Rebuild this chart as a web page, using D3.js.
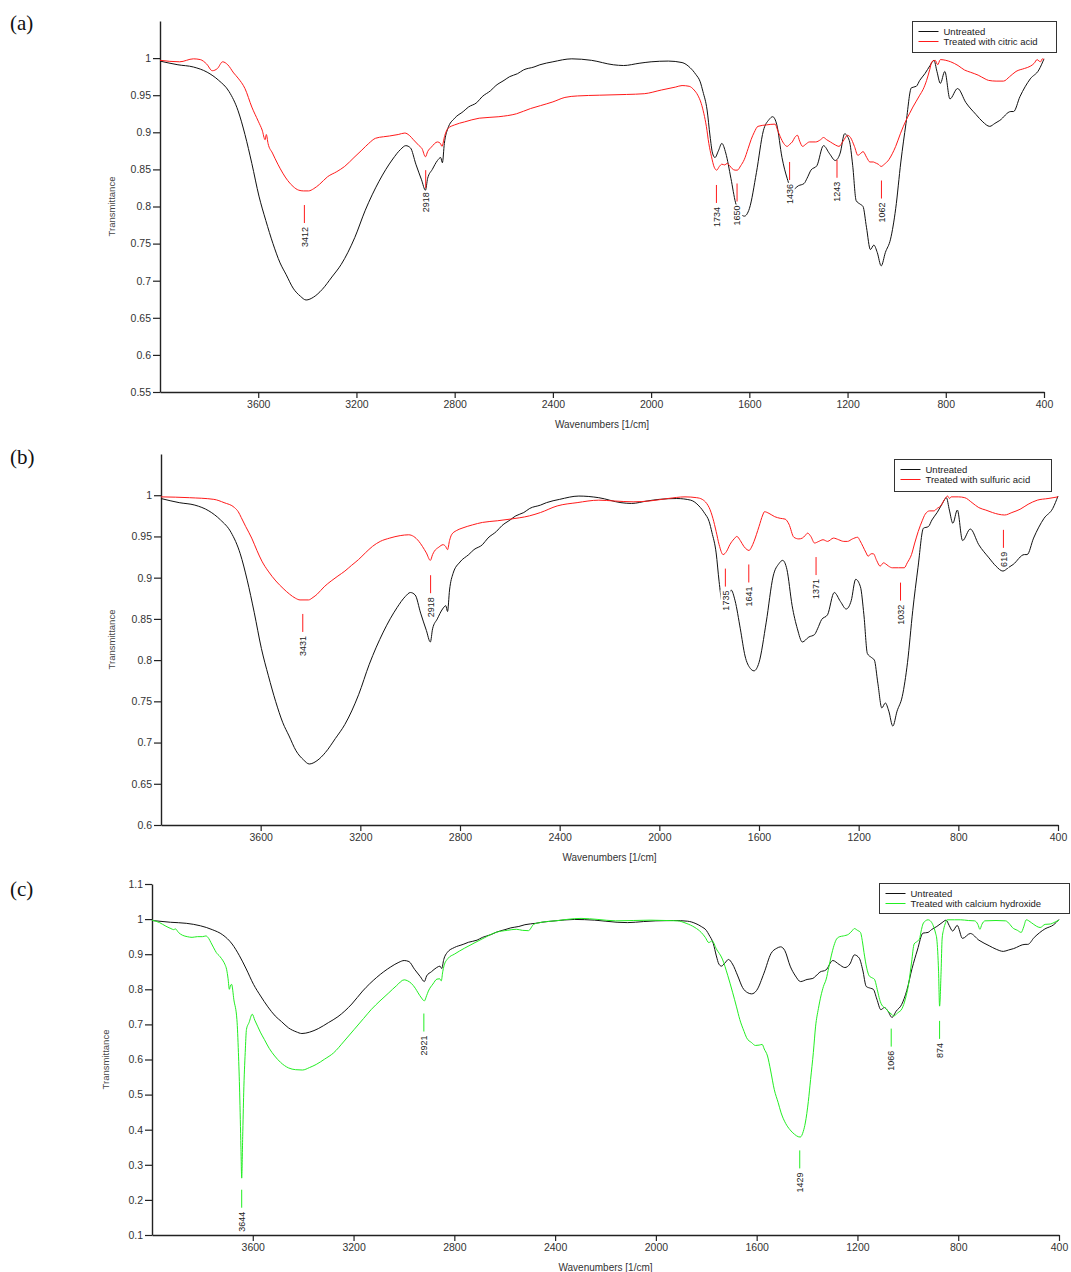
<!DOCTYPE html>
<html>
<head>
<meta charset="utf-8">
<script src="https://cdn.jsdelivr.net/npm/d3@7/dist/d3.min.js"></script>
<style>
  body { margin: 0; background: #fff; }
  svg text { font-family: "Liberation Sans", Arial, sans-serif; }
</style>
</head>
<body>
<svg id="chart" width="1071" height="1272"></svg>
<script>
// ---- data (wavenumber [1/cm], transmittance) ----
// untreated sample, same spectrum in all three panels
var untreated = [[4000,0.996],[3927,0.991],[3864,0.988],[3808,0.981],[3761,0.970],[3719,0.955],[3682,0.929],[3654,0.897],[3626,0.858],[3597,0.814],[3569,0.781],[3540,0.750],[3511,0.724],[3486,0.708],[3458,0.690],[3428,0.679],[3405,0.674],[3374,0.678],[3340,0.688],[3300,0.705],[3262,0.722],[3207,0.758],[3164,0.795],[3108,0.834],[3052,0.864],[3020,0.877],[2999,0.882],[2980,0.879],[2958,0.857],[2935,0.836],[2919,0.822],[2910,0.838],[2891,0.850],[2870,0.862],[2857,0.866],[2850,0.859],[2842,0.885],[2828,0.905],[2800,0.919],[2765,0.928],[2744,0.934],[2710,0.940],[2688,0.948],[2654,0.956],[2632,0.963],[2599,0.970],[2576,0.975],[2544,0.979],[2520,0.984],[2477,0.988],[2453,0.991],[2400,0.995],[2323,0.999],[2243,0.997],[2154,0.991],[2112,0.990],[2049,0.993],[2000,0.995],[1930,0.996],[1874,0.994],[1841,0.987],[1818,0.978],[1800,0.968],[1789,0.955],[1772,0.930],[1760,0.895],[1750,0.872],[1740,0.866],[1726,0.875],[1712,0.885],[1696,0.872],[1675,0.838],[1656,0.805],[1635,0.790],[1620,0.787],[1600,0.797],[1571,0.846],[1543,0.902],[1520,0.917],[1505,0.921],[1488,0.910],[1467,0.866],[1446,0.838],[1426,0.822],[1400,0.828],[1377,0.831],[1365,0.838],[1349,0.849],[1325,0.855],[1298,0.882],[1273,0.871],[1250,0.862],[1230,0.872],[1212,0.898],[1193,0.889],[1179,0.855],[1165,0.808],[1148,0.803],[1137,0.800],[1123,0.772],[1107,0.742],[1093,0.748],[1079,0.738],[1063,0.720],[1046,0.738],[1025,0.756],[1004,0.797],[983,0.860],[962,0.912],[940,0.960],[920,0.962],[906,0.970],[885,0.979],[864,0.990],[848,0.997],[836,0.982],[822,0.966],[804,0.982],[783,0.945],[752,0.959],[718,0.940],[677,0.924],[649,0.914],[621,0.908],[600,0.912],[580,0.916],[535,0.928],[524,0.928],[498,0.948],[456,0.972],[421,0.984],[400,0.999]];

var citric = [[4000,0.997],[3920,0.995],[3864,0.999],[3836,0.998],[3810,0.992],[3787,0.983],[3766,0.986],[3745,0.995],[3724,0.991],[3700,0.980],[3682,0.973],[3654,0.959],[3626,0.934],[3600,0.915],[3584,0.903],[3572,0.890],[3567,0.897],[3560,0.885],[3542,0.872],[3520,0.857],[3500,0.845],[3480,0.835],[3458,0.827],[3435,0.822],[3416,0.821],[3395,0.821],[3374,0.824],[3350,0.830],[3318,0.840],[3280,0.847],[3248,0.854],[3210,0.866],[3178,0.876],[3150,0.885],[3122,0.892],[3090,0.894],[3066,0.895],[3030,0.897],[3003,0.899],[2985,0.896],[2968,0.890],[2945,0.882],[2933,0.878],[2919,0.867],[2910,0.874],[2895,0.880],[2870,0.887],[2858,0.885],[2852,0.881],[2840,0.896],[2828,0.905],[2800,0.910],[2760,0.914],[2700,0.919],[2620,0.921],[2548,0.925],[2491,0.932],[2450,0.936],[2400,0.941],[2351,0.947],[2300,0.949],[2211,0.950],[2100,0.951],[2028,0.952],[1958,0.957],[1900,0.961],[1874,0.963],[1845,0.962],[1825,0.957],[1810,0.950],[1796,0.939],[1785,0.925],[1775,0.908],[1765,0.885],[1754,0.867],[1743,0.853],[1733,0.849],[1722,0.854],[1712,0.857],[1700,0.856],[1691,0.858],[1680,0.855],[1670,0.851],[1658,0.849],[1649,0.849],[1635,0.855],[1621,0.863],[1605,0.878],[1593,0.890],[1580,0.900],[1565,0.908],[1530,0.910],[1495,0.911],[1485,0.903],[1474,0.894],[1460,0.885],[1446,0.881],[1435,0.884],[1425,0.887],[1415,0.893],[1404,0.896],[1395,0.888],[1383,0.881],[1370,0.884],[1355,0.887],[1330,0.887],[1310,0.890],[1298,0.893],[1285,0.890],[1270,0.887],[1250,0.883],[1235,0.881],[1218,0.888],[1200,0.896],[1188,0.893],[1172,0.881],[1158,0.869],[1145,0.872],[1137,0.874],[1122,0.866],[1109,0.860],[1095,0.860],[1088,0.859],[1075,0.857],[1063,0.854],[1050,0.857],[1032,0.863],[1018,0.871],[1004,0.881],[985,0.898],[962,0.916],[948,0.925],[934,0.934],[920,0.942],[906,0.950],[892,0.958],[878,0.970],[865,0.985],[857,0.995],[843,0.997],[833,0.991],[822,0.998],[800,0.997],[780,0.995],[750,0.990],[724,0.984],[700,0.981],[668,0.977],[640,0.972],[626,0.970],[595,0.969],[565,0.969],[540,0.975],[514,0.982],[480,0.986],[456,0.989],[440,0.993],[428,0.998],[420,0.996],[414,0.995],[407,0.999],[400,0.998]];

var sulfuric = [[4000,0.998],[3885,0.997],[3788,0.995],[3747,0.991],[3705,0.985],[3690,0.980],[3678,0.973],[3660,0.962],[3636,0.948],[3615,0.933],[3595,0.920],[3570,0.908],[3539,0.896],[3510,0.887],[3484,0.880],[3460,0.875],[3442,0.873],[3408,0.873],[3390,0.876],[3373,0.880],[3345,0.889],[3317,0.896],[3290,0.902],[3262,0.908],[3235,0.915],[3207,0.922],[3180,0.930],[3151,0.938],[3120,0.944],[3082,0.948],[3040,0.951],[3006,0.952],[2986,0.950],[2965,0.944],[2951,0.938],[2935,0.930],[2919,0.921],[2910,0.928],[2903,0.932],[2885,0.937],[2868,0.940],[2858,0.938],[2850,0.934],[2842,0.945],[2834,0.952],[2815,0.957],[2792,0.960],[2750,0.964],[2710,0.967],[2650,0.969],[2599,0.971],[2521,0.975],[2477,0.979],[2410,0.987],[2330,0.991],[2243,0.994],[2180,0.993],[2105,0.992],[2040,0.993],[1966,0.996],[1897,0.998],[1850,0.997],[1828,0.995],[1810,0.990],[1800,0.985],[1785,0.972],[1772,0.956],[1760,0.940],[1744,0.928],[1730,0.932],[1717,0.940],[1700,0.947],[1689,0.950],[1675,0.945],[1661,0.938],[1648,0.934],[1640,0.933],[1630,0.937],[1620,0.944],[1600,0.962],[1585,0.976],[1578,0.980],[1560,0.978],[1537,0.974],[1515,0.972],[1495,0.971],[1480,0.965],[1460,0.949],[1440,0.947],[1426,0.948],[1415,0.951],[1405,0.954],[1392,0.950],[1377,0.942],[1360,0.944],[1343,0.946],[1325,0.944],[1301,0.948],[1280,0.946],[1260,0.944],[1245,0.944],[1225,0.947],[1204,0.949],[1195,0.945],[1183,0.938],[1170,0.930],[1162,0.926],[1150,0.929],[1141,0.929],[1128,0.921],[1114,0.914],[1100,0.918],[1093,0.917],[1080,0.914],[1065,0.912],[1040,0.912],[1017,0.912],[1005,0.918],[988,0.928],[975,0.942],[961,0.956],[945,0.969],[933,0.977],[915,0.981],[898,0.981],[885,0.984],[871,0.987],[855,0.995],[843,0.999],[835,0.996],[829,0.998],[800,0.998],[774,0.997],[745,0.991],[718,0.985],[690,0.982],[663,0.979],[640,0.977],[614,0.976],[585,0.979],[552,0.983],[520,0.989],[483,0.994],[440,0.996],[400,0.998]];

var calcium = [[4000,0.997],[3970,0.990],[3948,0.981],[3925,0.973],[3914,0.970],[3907,0.972],[3895,0.962],[3879,0.954],[3860,0.950],[3841,0.948],[3820,0.950],[3800,0.950],[3786,0.952],[3775,0.945],[3766,0.933],[3755,0.918],[3745,0.905],[3730,0.893],[3718,0.881],[3710,0.870],[3704,0.857],[3698,0.830],[3693,0.800],[3688,0.812],[3684,0.814],[3675,0.770],[3663,0.714],[3657,0.620],[3652,0.505],[3647,0.350],[3644,0.262],[3640,0.380],[3636,0.505],[3630,0.620],[3625,0.686],[3615,0.705],[3602,0.729],[3592,0.712],[3581,0.695],[3570,0.678],[3554,0.657],[3535,0.632],[3513,0.610],[3490,0.592],[3458,0.576],[3430,0.571],[3403,0.570],[3375,0.577],[3348,0.586],[3315,0.601],[3279,0.619],[3240,0.650],[3197,0.686],[3160,0.717],[3129,0.743],[3095,0.767],[3060,0.790],[3030,0.810],[2999,0.827],[2985,0.824],[2971,0.817],[2955,0.803],[2944,0.790],[2930,0.775],[2919,0.767],[2910,0.782],[2903,0.795],[2885,0.815],[2869,0.829],[2858,0.830],[2852,0.824],[2846,0.850],[2841,0.867],[2825,0.888],[2800,0.900],[2760,0.917],[2718,0.933],[2680,0.947],[2636,0.962],[2590,0.968],[2554,0.971],[2530,0.968],[2506,0.967],[2485,0.985],[2461,0.990],[2400,0.995],[2297,1.002],[2230,0.999],[2160,0.995],[2090,0.996],[2023,0.997],[1960,0.996],[1914,0.995],[1880,0.988],[1845,0.976],[1820,0.962],[1804,0.948],[1790,0.933],[1777,0.938],[1760,0.915],[1736,0.886],[1715,0.840],[1695,0.790],[1680,0.750],[1667,0.714],[1650,0.680],[1640,0.662],[1620,0.648],[1605,0.640],[1590,0.641],[1578,0.643],[1570,0.630],[1557,0.610],[1545,0.570],[1530,0.514],[1515,0.478],[1503,0.448],[1485,0.418],[1468,0.400],[1450,0.387],[1435,0.380],[1427,0.379],[1415,0.395],[1407,0.419],[1395,0.480],[1386,0.543],[1375,0.620],[1366,0.695],[1355,0.745],[1345,0.781],[1335,0.808],[1324,0.829],[1314,0.862],[1304,0.895],[1293,0.925],[1283,0.943],[1270,0.950],[1256,0.952],[1235,0.957],[1222,0.966],[1212,0.973],[1200,0.968],[1188,0.962],[1180,0.935],[1174,0.905],[1163,0.860],[1153,0.838],[1140,0.832],[1133,0.829],[1120,0.795],[1112,0.771],[1100,0.752],[1092,0.748],[1075,0.735],[1063,0.728],[1057,0.724],[1040,0.733],[1023,0.745],[1010,0.772],[996,0.819],[985,0.878],[975,0.929],[962,0.937],[954,0.943],[946,0.970],[940,0.986],[930,0.995],[920,0.998],[908,0.993],[899,0.981],[890,0.960],[885,0.943],[878,0.850],[874,0.752],[868,0.850],[864,0.943],[858,0.970],[850,0.990],[844,0.998],[815,0.998],[790,0.998],[760,0.996],[735,0.995],[722,0.985],[714,0.971],[706,0.985],[694,0.995],[650,0.996],[612,0.995],[595,0.985],[585,0.976],[565,0.968],[550,0.962],[540,0.978],[530,0.998],[510,0.990],[490,0.980],[475,0.976],[455,0.985],[434,0.986],[415,0.992],[400,0.997]];

// marked peaks: [wavenumber, transmittance at top of the marker]
var peaksA = [[3412,0.802],[2918,0.849],[1734,0.829],[1650,0.831],[1436,0.860],[1243,0.863],[1062,0.835]];
var peaksB = [[3431,0.856],[2918,0.903],[1735,0.911],[1641,0.916],[1371,0.925],[1032,0.894],[619,0.958]];
var peaksC = [[3644,0.229],[2921,0.731],[1429,0.341],[1066,0.688],[874,0.710]];

// ticks
var xTicks = [3600, 3200, 2800, 2400, 2000, 1600, 1200, 800, 400];
var yTicksA = [0.55, 0.6, 0.65, 0.7, 0.75, 0.8, 0.85, 0.9, 0.95, 1];
var yTicksB = [0.6, 0.65, 0.7, 0.75, 0.8, 0.85, 0.9, 0.95, 1];
var yTicksC = [0.1, 0.2, 0.3, 0.4, 0.5, 0.6, 0.7, 0.8, 0.9, 1, 1.1];

var legendA = ["Untreated", "Treated with citric acid"];
var legendB = ["Untreated", "Treated with sulfuric acid"];
var legendC = ["Untreated", "Treated with calcium hydroxide"];

var BLACK = "#111", RED = "#ff1a1a", GREEN = "#22ee22";

var svg = d3.select("#chart");
var fmt = d3.format(".2~f");

function drawPanel(o) {
  var x = d3.scaleLinear().domain([4000, 400]).range([o.left, o.right]);
  var y = d3.scaleLinear().domain(o.yDomain).range([o.bottom, o.top]);
  var g = svg.append("g");

  // panel letter
  g.append("text")
    .attr("x", 10).attr("y", o.letterY)
    .style("font-family", "'Liberation Serif', 'Times New Roman', serif")
    .style("font-size", "21px").attr("fill", "#111")
    .text(o.letter);

  // axes
  var xAxis = g.append("g")
    .attr("transform", "translate(0," + o.bottom + ")")
    .call(d3.axisBottom(x).tickValues(xTicks).tickFormat(d3.format("d"))
      .tickSize(6).tickSizeOuter(0).tickPadding(3));
  var yAxis = g.append("g")
    .attr("transform", "translate(" + o.left + ",0)")
    .call(d3.axisLeft(y).tickValues(o.yTicks).tickFormat(fmt).tickSize(7).tickSizeOuter(0).tickPadding(2));
  [xAxis, yAxis].forEach(function(a) {
    a.select(".domain").attr("stroke", "#222").attr("stroke-width", 1.4);
    a.selectAll(".tick line").attr("stroke", "#222").attr("stroke-width", 1.2);
    a.selectAll(".tick text").attr("fill", "#333").style("font-size", "10.5px");
  });

  g.append("text")
    .attr("x", (o.left + o.right) / 2).attr("y", o.bottom + 36)
    .attr("text-anchor", "middle").attr("fill", "#333").style("font-size", "10px")
    .text("Wavenumbers [1/cm]");
  g.append("text")
    .attr("transform", "translate(" + o.yTitleX + "," + (o.top + o.bottom) / 2 + ") rotate(-90)")
    .attr("text-anchor", "middle").attr("dy", "0.35em").attr("fill", "#444").style("font-size", "9.5px")
    .text("Transmittance");

  // spectra
  var line = d3.line()
    .x(function(d) { return x(d[0]); })
    .y(function(d) { return y(d[1]); })
    .curve(d3.curveMonotoneX);
  o.series.forEach(function(s) {
    g.append("path")
      .datum(s.data.slice().sort(function(a, b) { return b[0] - a[0]; }))
      .attr("fill", "none").attr("stroke", s.color).attr("stroke-width", 1)
      .attr("d", line);
  });

  // peak markers
  o.peaks.forEach(function(p) {
    var px = x(p[0]), py = y(p[1]);
    g.append("line")
      .attr("x1", px).attr("x2", px).attr("y1", py).attr("y2", py + 18)
      .attr("stroke", o.peakColor).attr("stroke-width", 1);
    var lg = g.append("g").attr("transform", "translate(" + px + "," + (py + 22) + ") rotate(-90)");
    var bg = lg.append("rect").attr("fill", "#fff");
    var t = lg.append("text")
      .attr("text-anchor", "end").attr("dy", "0.35em")
      .attr("fill", "#222").style("font-size", "9px")
      .text(p[0]);
    var bb = t.node().getBBox();
    bg.attr("x", bb.x - 1).attr("y", bb.y).attr("width", bb.width + 2).attr("height", bb.height);
  });

  // legend
  var L = o.legend;
  var lgd = g.append("g").attr("transform", "translate(" + (L.x + 0.5) + "," + (L.y + 0.5) + ")");
  lgd.append("rect").attr("width", L.w).attr("height", L.h)
    .attr("fill", "#fff").attr("stroke", "#333").attr("stroke-width", 1);
  L.labels.forEach(function(lab, i) {
    var ly = 10 + i * 10;
    lgd.append("line").attr("x1", 6).attr("x2", 26).attr("y1", ly).attr("y2", ly)
      .attr("stroke", o.series[i].color).attr("stroke-width", 1);
    lgd.append("text").attr("x", 31).attr("y", ly).attr("dy", "0.35em")
      .attr("fill", "#222").style("font-size", "9.5px").text(lab);
  });
}

drawPanel({
  letter: "(a)", letterY: 30,
  left: 160, right: 1044, top: 21, bottom: 392,
  yDomain: [0.55, 1.05], yTicks: yTicksA, yTitleX: 112,
  series: [{data: untreated, color: BLACK}, {data: citric, color: RED}],
  peaks: peaksA, peakColor: RED,
  legend: {x: 912, y: 21, w: 144, h: 31, labels: legendA}
});

drawPanel({
  letter: "(b)", letterY: 464,
  left: 161, right: 1058, top: 454, bottom: 825,
  yDomain: [0.6, 1.05], yTicks: yTicksB, yTitleX: 112,
  series: [{data: untreated, color: BLACK}, {data: sulfuric, color: RED}],
  peaks: peaksB, peakColor: RED,
  legend: {x: 894, y: 459, w: 157, h: 32, labels: legendB}
});

drawPanel({
  letter: "(c)", letterY: 896,
  left: 152, right: 1059, top: 884, bottom: 1235,
  yDomain: [0.1, 1.1], yTicks: yTicksC, yTitleX: 106,
  series: [{data: untreated, color: BLACK}, {data: calcium, color: GREEN}],
  peaks: peaksC, peakColor: GREEN,
  legend: {x: 879, y: 883, w: 190, h: 30, labels: legendC}
});
</script>
</body>
</html>
